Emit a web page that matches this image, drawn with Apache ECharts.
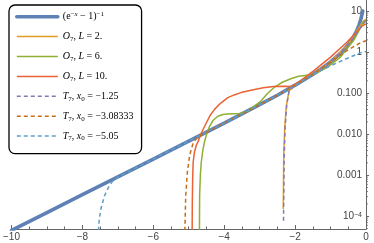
<!DOCTYPE html>
<html><head><meta charset="utf-8">
<script src="https://cdn.jsdelivr.net/npm/echarts@6/dist/echarts.min.js"></script>
<style>html,body{margin:0;padding:0;background:#fff}#c{width:374px;height:243px}</style>
</head><body><div id="c"></div>
<script>
// ---- data ----
const seriesNames = ['bose', 'O7L2', 'O7L6', 'O7L10', 'T7a', 'T7b', 'T7c'];
const legendLabels = {
  bose: '{n|(e}{sup|−}{supi|x}{n| − 1)}{sup|−1}',
  O7L2: '{i|O}{sub|7}{n|, }{i|L}{n| = 2.}',
  O7L6: '{i|O}{sub|7}{n|, }{i|L}{n| = 6.}',
  O7L10: '{i|O}{sub|7}{n|, }{i|L}{n| = 10.}',
  T7a: '{i|T}{sub|7}{n|, }{i|x}{sub|0}{n| = −1.25}',
  T7b: '{i|T}{sub|7}{n|, }{i|x}{sub|0}{n| = −3.08333}',
  T7c: '{i|T}{sub|7}{n|, }{i|x}{sub|0}{n| = −5.05}'
};
const xTickValues = [-10, -8, -6, -4, -2, 0];
const yTickLabels = { '1': '10', '0': '1', '-1': '0.100', '-2': '0.010', '-3': '0.001', '-4': '10{sup|−4}' };
const yMinorMultipliers = [2, 3, 4, 5, 6, 7, 8, 9];
const yDecades = [1e-5, 1e-4, 1e-3, 1e-2, 1e-1, 1, 10];

const boseData = [[-10,4.5e-5],[-9,1.23e-4],[-8,3.35e-4],[-7,9.1e-4],[-6,2.48e-3],[-5,6.8e-3],[-4,0.0187],[-3,0.0524],[-2.5,0.0891],[-2,0.157],[-1.5,0.287],[-1.25,0.401],[-1,0.582],[-0.75,0.895],[-0.6,1.22],[-0.5,1.54],[-0.4,2.03],[-0.3,2.86],[-0.25,3.52],[-0.2,4.52],[-0.15,6.18],[-0.12,7.85],[-0.1,9.51],[-0.094,10.1]];
const o7L2Data = [[-2.334,1.5e-4],[-2.327,6.8e-4],[-2.319,3.76e-3],[-2.29,0.0156],[-2.248,0.0486],[-2.17,0.114],[-2.0,0.157],[-1.5,0.287],[-1.0,0.582],[-0.5,1.54],[-0.25,3.4],[-0.1,5.4],[0,6.4]];
const o7L6Data = [[-4.70,2e-5],[-4.693,3.2e-4],[-4.67,1.1e-3],[-4.645,2.13e-3],[-4.6,4.2e-3],[-4.553,6.64e-3],[-4.48,0.0112],[-4.413,0.0156],[-4.31,0.0219],[-4.177,0.0275],[-4.04,0.0302],[-3.897,0.0313],[-3.572,0.0321],[-3.336,0.0366],[-3.151,0.0486],[-2.963,0.0646],[-2.78,0.098],[-2.59,0.138],[-2.36,0.185],[-2.122,0.225],[-1.9,0.258],[-1.654,0.275],[-1.477,0.283],[-1.093,0.428],[-0.72,0.757],[-0.347,1.95],[-0.067,5.5],[0,6.0]];
const o7L10Data = [[-4.905,3e-5],[-4.90,2e-4],[-4.89,8e-4],[-4.875,2.1e-3],[-4.84,3.6e-3],[-4.79,5.3e-3],[-4.738,6.6e-3],[-4.645,0.0107],[-4.505,0.0188],[-4.393,0.0291],[-4.272,0.0403],[-4.113,0.056],[-3.897,0.0778],[-3.72,0.0908],[-3.524,0.1035],[-3.244,0.1186],[-2.9,0.135],[-2.6,0.146],[-2.3,0.148],[-2.12,0.145],[-1.85,0.2],[-1.47,0.356],[-1.0,0.757],[-0.533,1.78],[-0.112,4.3],[0,4.9]];
const t7aData = [[-2.327,7.8e-5],[-2.319,3.26e-4],[-2.31,2.13e-3],[-2.282,0.0142],[-2.234,0.0535],[-2.17,0.114],[-2.0,0.157],[-1.5,0.287],[-1.0,0.582],[-0.5,1.5],[-0.25,3.0],[-0.1,4.7],[0,5.8]];
const t7bData = [[-5.115,3e-5],[-5.085,3.2e-4],[-5.038,1.2e-3],[-4.973,3.12e-3],[-4.878,6.03e-3],[-4.75,8.6e-3],[-4.5,0.0111],[-4,0.0187],[-3.5,0.0311],[-3,0.0524],[-2.5,0.0891],[-2,0.157],[-1.5,0.287],[-1.0,0.57],[-0.533,1.1],[-0.112,1.78],[0,1.9]];
const t7cData = [[-7.56,3e-5],[-7.525,8.5e-5],[-7.468,1.65e-4],[-7.373,3.2e-4],[-7.26,5.14e-4],[-7.149,7.1e-4],[-7.0,9.0e-4],[-6.5,1.5e-3],[-6,2.48e-3],[-5,6.8e-3],[-4,0.0187],[-3,0.0524],[-2.5,0.089],[-2.0,0.155],[-1.56,0.267],[-1.093,0.428],[-0.627,0.653],[-0.112,1.0],[0,1.03]];

// ---- styling ----
const colors = ['#5E81B5', '#E19C24', '#8FB032', '#EB6235', '#8778B3', '#C56E1A', '#5D9EC7'];
const widths = [3.6, 1.5, 1.5, 1.5, 1.5, 1.5, 1.5];
const dashed = [false, false, false, false, true, true, true];
const datas = [boseData, o7L2Data, o7L6Data, o7L10Data, t7aData, t7bData, t7cData];

const minorTicks = [];
yDecades.forEach(d => yMinorMultipliers.forEach(m => { const v = d * m; if (v > 4.9e-5 && v < 18.7) minorTicks.push(v); }));

const chart = echarts.init(document.getElementById('c'), null, { renderer: 'canvas' });
const axisColor = '#666';
const serif = 'Liberation Serif';
const series = seriesNames.map((n, k) => ({
  name: n, type: 'line', data: datas[k], showSymbol: false, symbol: 'none', clip: true,
  smooth: false, animation: false,
  lineStyle: { color: colors[k], width: widths[k], type: dashed[k] ? [4, 3] : 'solid', cap: k === 0 ? 'round' : 'butt', join: 'round' },
  itemStyle: { color: colors[k] },
  z: 2 + k
}));
series.push({
  type: 'custom', name: 'yminor', data: minorTicks.map(v => [0, v]), silent: true, clip: false, animation: false, z: 20,
  renderItem: (params, api) => {
    const p = api.coord([0, api.value(1)]);
    return { type: 'line', shape: { x1: p[0], y1: p[1], x2: p[0] + 2, y2: p[1] }, style: { stroke: axisColor, lineWidth: 0.8 } };
  }
});

chart.setOption({
  animation: false,
  grid: { left: 9, right: 8, top: 0, bottom: 14, containLabel: false },
  legend: {
    orient: 'vertical', left: 9, top: 5,
    data: seriesNames,
    itemWidth: 41, itemHeight: 10, itemGap: 7.9,
    padding: [5.7, 8, 11.5, 6],
    borderColor: '#000', borderWidth: 1.3, borderRadius: 6, backgroundColor: '#fff',
    lineStyle: { width: 'inherit' },
    itemStyle: { color: 'rgba(0,0,0,0)', borderColor: 'rgba(0,0,0,0)', borderWidth: 0, opacity: 0 },
    selectedMode: false,
    formatter: n => legendLabels[n],
    textStyle: {
      color: '#000', fontFamily: serif, fontSize: 10, lineHeight: 12,
      rich: {
        n: { fontFamily: serif, fontSize: 10, color: '#000', lineHeight: 12 },
        i: { fontFamily: serif, fontStyle: 'italic', fontSize: 10, color: '#000', lineHeight: 12 },
        sup: { fontFamily: serif, fontSize: 7, color: '#000', verticalAlign: 'top', lineHeight: 8 },
        supi: { fontFamily: serif, fontStyle: 'italic', fontSize: 7, color: '#000', verticalAlign: 'top', lineHeight: 8 },
        sub: { fontFamily: serif, fontSize: 7, color: '#000', verticalAlign: 'bottom', lineHeight: 8 }
      }
    }
  },
  xAxis: {
    type: 'value', min: -10, max: 0, interval: 2,
    axisLine: { show: true, lineStyle: { color: axisColor, width: 1 } },
    axisTick: { show: true, inside: true, length: 4, lineStyle: { color: axisColor } },
    minorTick: { show: true, splitNumber: 4, length: 2.5, lineStyle: { color: axisColor } },
    splitLine: { show: false },
    axisLabel: {
      margin: 3, color: '#444', fontFamily: 'Liberation Sans', fontSize: 10,
      formatter: v => (v < 0 ? '−' + Math.abs(v) : String(v))
    }
  },
  yAxis: {
    type: 'log', logBase: 10, min: 4.88e-5, max: 18.75, position: 'right',
    axisLine: { show: true, lineStyle: { color: axisColor, width: 1 } },
    axisTick: { show: true, inside: false, length: 3, lineStyle: { color: axisColor } },
    minorTick: { show: false },
    splitLine: { show: false },
    axisLabel: {
      inside: true, margin: 4, color: '#444', fontFamily: 'Liberation Sans', fontSize: 10,
      showMinLabel: false, showMaxLabel: false,
      formatter: v => { const e = Math.round(Math.log10(v)); return yTickLabels[String(e)] || ''; },
      rich: { sup: { fontSize: 7, color: '#444', fontFamily: 'Liberation Sans', verticalAlign: 'top', lineHeight: 8 } }
    }
  },
  series: series
});
</script>
</body></html>
